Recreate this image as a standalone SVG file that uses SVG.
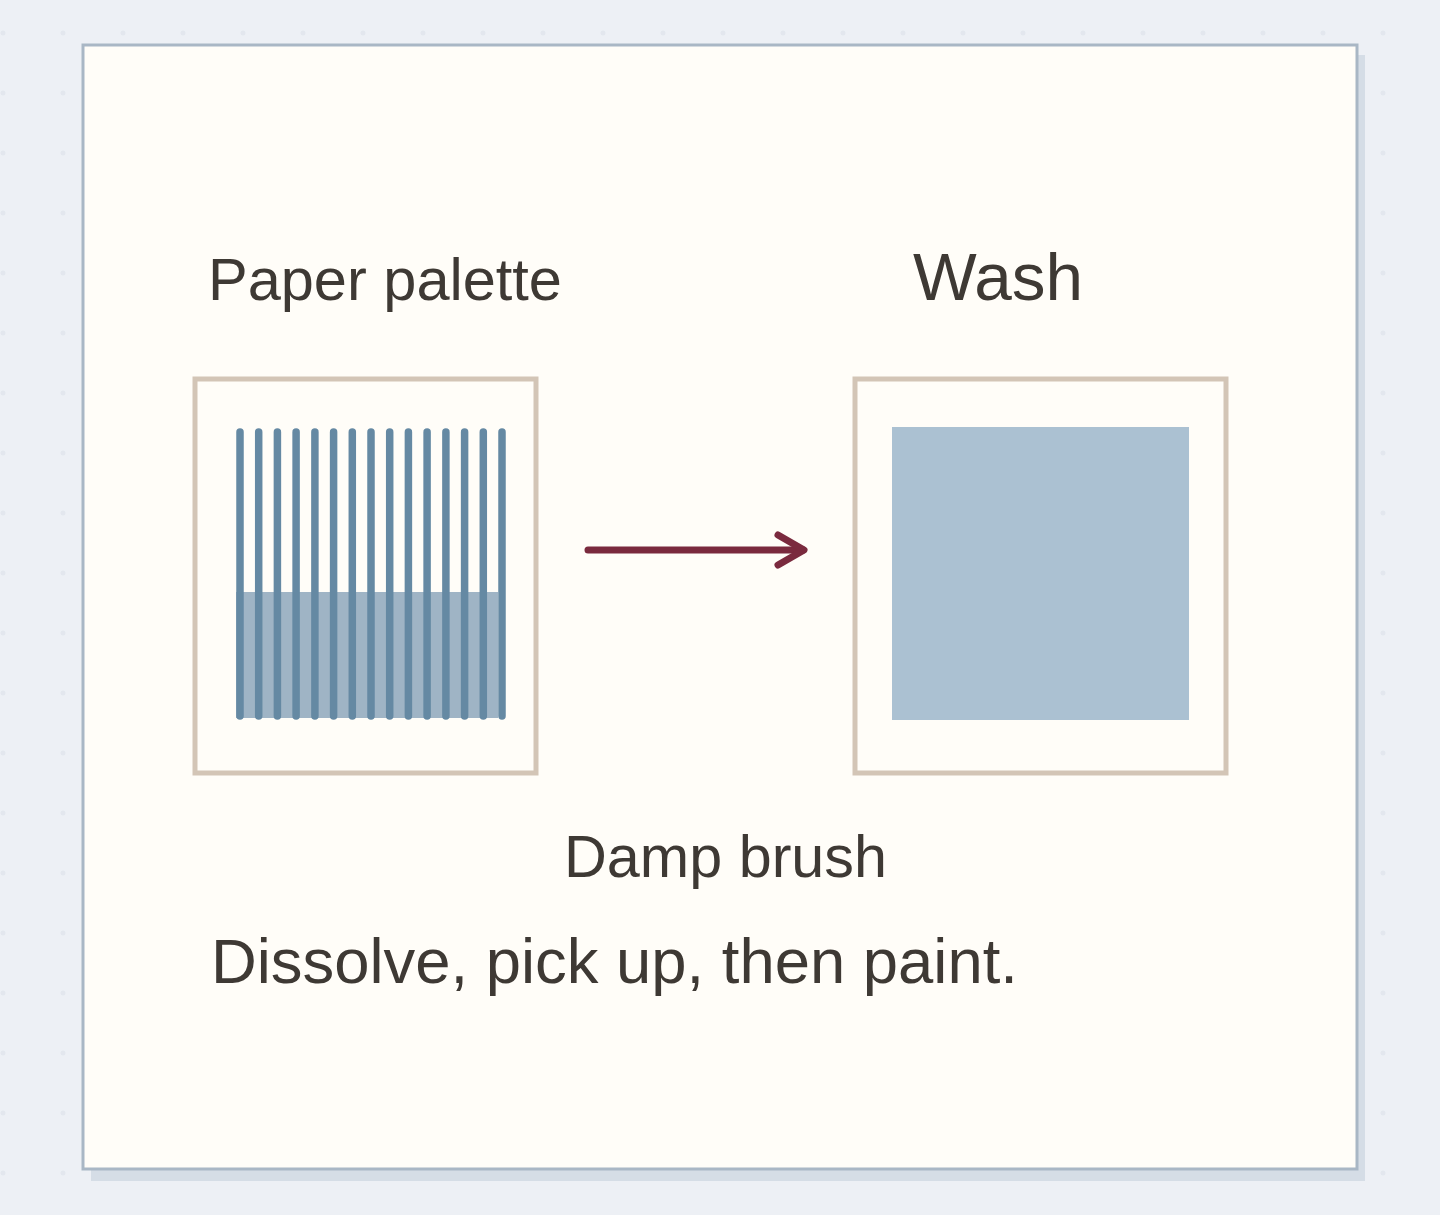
<svg xmlns="http://www.w3.org/2000/svg" width="1440" height="1215" viewBox="0 0 1440 1215">
<defs>
<pattern id="dots" x="0" y="0" width="60" height="60" patternUnits="userSpaceOnUse">
<circle cx="3" cy="33" r="2.5" fill="#e3e7ee"/>
</pattern>
<style>
.lbl{font-family:"Liberation Sans",Arial,sans-serif;fill:#3e3934}
.frame{fill:#fffdf8;stroke:#d3c5b6;stroke-width:5}
.stripe{stroke:#6589a3;stroke-width:7.5;stroke-linecap:round}
.conn{fill:none;stroke:#7a2a3e;stroke-width:7;stroke-linecap:round;stroke-linejoin:round}
</style>
</defs>
<rect width="1440" height="1215" fill="#edf0f5"/>
<rect width="1440" height="1215" fill="url(#dots)"/>
<rect x="91" y="55" width="1274" height="1126" fill="#d5dde6"/>
<rect x="83" y="45" width="1274" height="1124" fill="#fffdf8" stroke="#a9b7c5" stroke-width="3"/>
<g id="palette">
<text class="lbl" x="208" y="300" font-size="59.5">Paper palette</text>
<rect class="frame" x="195" y="379" width="341" height="394"/>
<rect x="236" y="592" width="262" height="126" fill="#9fb4c5"/>
<g class="stripe">
<line x1="240" y1="432" x2="240" y2="716"/>
<line x1="258.7" y1="432" x2="258.7" y2="716"/>
<line x1="277.4" y1="432" x2="277.4" y2="716"/>
<line x1="296.1" y1="432" x2="296.1" y2="716"/>
<line x1="314.9" y1="432" x2="314.9" y2="716"/>
<line x1="333.6" y1="432" x2="333.6" y2="716"/>
<line x1="352.3" y1="432" x2="352.3" y2="716"/>
<line x1="371" y1="432" x2="371" y2="716"/>
<line x1="389.7" y1="432" x2="389.7" y2="716"/>
<line x1="408.4" y1="432" x2="408.4" y2="716"/>
<line x1="427.1" y1="432" x2="427.1" y2="716"/>
<line x1="445.9" y1="432" x2="445.9" y2="716"/>
<line x1="464.6" y1="432" x2="464.6" y2="716"/>
<line x1="483.3" y1="432" x2="483.3" y2="716"/>
<line x1="502" y1="432" x2="502" y2="716"/>
</g>
</g>
<g id="wash">
<text class="lbl" x="913" y="300" font-size="67.5">Wash</text>
<rect class="frame" x="855" y="379" width="371" height="394"/>
<rect x="892" y="427" width="297" height="293" fill="#abc1d2"/>
</g>
<g id="connectors">
<line class="conn" x1="588" y1="550" x2="803" y2="550"/>
<polyline class="conn" points="778,535 804,550 778,565"/>
</g>
<g id="brush-label">
<text class="lbl" x="564" y="877" font-size="59.3">Damp brush</text>
</g>
<g id="caption">
<text class="lbl" x="211" y="983" font-size="63.4">Dissolve, pick up, then paint.</text>
</g>
</svg>
